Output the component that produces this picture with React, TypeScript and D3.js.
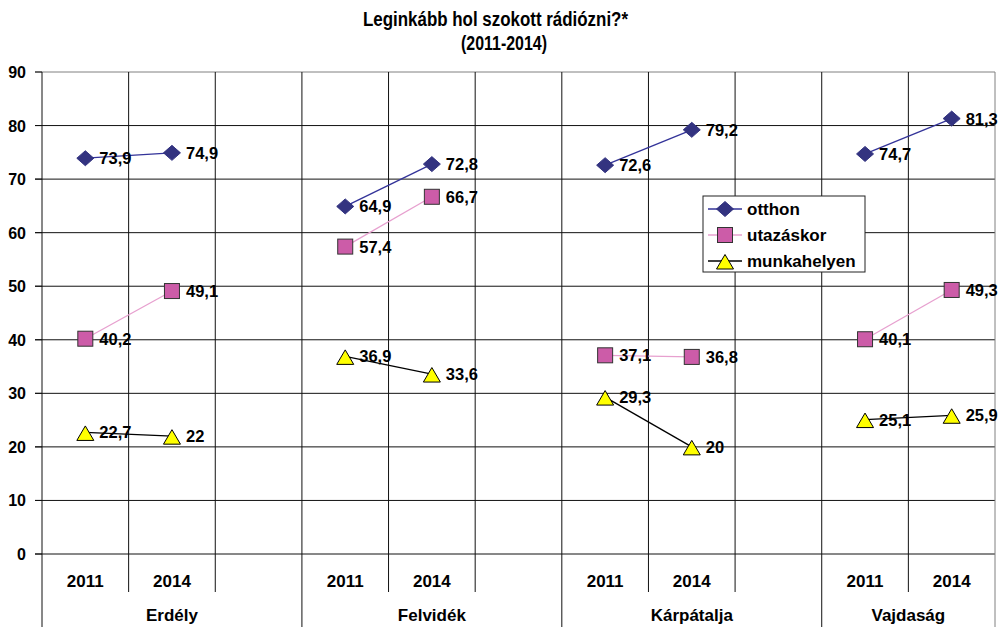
import React from "react";
import * as d3 from "d3";

const regions = ["Erdély", "Felvidék", "Kárpátalja", "Vajdaság"];
const years = ["2011", "2014"];
const otthon = [73.9, 74.9, 64.9, 72.8, 72.6, 79.2, 74.7, 81.3];
const utazaskor = [40.2, 49.1, 57.4, 66.7, 37.1, 36.8, 40.1, 49.3];
const munkahelyen = [22.7, 22, 36.9, 33.6, 29.3, 20, 25.1, 25.9];
const yTicks = [0, 10, 20, 30, 40, 50, 60, 70, 80, 90];

const W = 1000, H = 627;
const left = 42, right = 995, top = 72, bottom = 554;
const FONT = "'Liberation Sans', Arial, sans-serif";

const series = [
  { name: "otthon", values: otthon, line: "#333399", fill: "#333380", stroke: "#333380", shape: "diamond" },
  { name: "utazáskor", values: utazaskor, line: "#e7a0cf", fill: "#cc5ca8", stroke: "#333", shape: "square" },
  { name: "munkahelyen", values: munkahelyen, line: "#000", fill: "#ffff00", stroke: "#000", shape: "triangle" },
];

function fmt(v: number) {
  return String(v).replace(".", ",");
}

function Marker({ shape, x, y, fill, stroke }: any) {
  if (shape === "diamond") {
    return <path d={`M${x},${y - 7.5}L${x + 8.5},${y}L${x},${y + 7.5}L${x - 8.5},${y}Z`} fill={fill} stroke={stroke} strokeWidth={1} />;
  }
  if (shape === "square") {
    const s = 7.5;
    return <rect x={x - s} y={y - s} width={2 * s} height={2 * s} fill={fill} stroke={stroke} strokeWidth={1} />;
  }
  return <path d={`M${x},${y - 6.5}L${x + 8.5},${y + 8}L${x - 8.5},${y + 8}Z`} fill={fill} stroke={stroke} strokeWidth={1} />;
}

export default function App() {
  const slots = d3.range(11);
  const x = d3.scaleBand<number>().domain(slots).range([left, right]).padding(0);
  const y = d3.scaleLinear().domain([0, 90]).range([bottom, top]);
  const bw = x.bandwidth();
  const slotOf = (ri: number, yi: number) => ri * 3 + yi;
  const cx = (i: number) => (x(i) as number) + bw / 2;

  return (
    <svg width={W} height={H} style={{ position: "absolute", left: 0, top: 0, fontFamily: FONT }}>
      <rect width={W} height={H} fill="#fff" />
      <text x={363} y={26} fontWeight="bold" fontSize={20} textLength={265} lengthAdjust="spacingAndGlyphs">Leginkább hol szokott rádiózni?*</text>
      <text x={461} y={50} fontWeight="bold" fontSize={20} textLength={86} lengthAdjust="spacingAndGlyphs">(2011-2014)</text>

      {yTicks.map((t) => (
        <g key={t}>
          <line x1={left - 7} x2={right} y1={y(t)} y2={y(t)} stroke={t === 90 ? "#808080" : "#111"} strokeWidth={1} />
          <line x1={left - 7} x2={left} y1={y(t)} y2={y(t)} stroke="#111" strokeWidth={1} />
          <text x={26} y={y(t) + 6} textAnchor="end" fontWeight="bold" fontSize={16}>{t}</text>
        </g>
      ))}
      {d3.range(12).map((i) => {
        const xx = i < 11 ? (x(i) as number) : right;
        const isGroup = i % 3 === 0 || i === 11;
        return (
          <g key={i}>
            <line x1={xx} x2={xx} y1={top} y2={bottom} stroke={i === 11 ? "#808080" : "#111"} strokeWidth={1} />
            <line x1={xx} x2={xx} y1={bottom} y2={isGroup ? H : 592} stroke={i === 11 ? "#808080" : "#111"} strokeWidth={1} />
          </g>
        );
      })}
      {regions.map((r, ri) => {
        const gStart = x(ri * 3) as number;
        const gEnd = ri === 3 ? right : (x(ri * 3 + 3) as number);
        return (
          <g key={r}>
            {years.map((yr, yi) => (
              <text key={yr} x={cx(slotOf(ri, yi))} y={587} textAnchor="middle" fontWeight="bold" fontSize={17}>{yr}</text>
            ))}
            <text x={(gStart + gEnd) / 2} y={621} textAnchor="middle" fontWeight="bold" fontSize={17}>{r}</text>
          </g>
        );
      })}

      {series.map((s) => (
        <g key={s.name}>
          {regions.map((r, ri) => (
            <line key={r} x1={cx(slotOf(ri, 0))} x2={cx(slotOf(ri, 1))} y1={y(s.values[ri * 2])} y2={y(s.values[ri * 2 + 1])} stroke={s.line} strokeWidth={1.3} />
          ))}
        </g>
      ))}
      {series.map((s) => (
        <g key={s.name + "m"}>
          {s.values.map((v, i) => {
            const ri = Math.floor(i / 2), yi = i % 2;
            const px = cx(slotOf(ri, yi)), py = y(v);
            return (
              <g key={i}>
                <Marker shape={s.shape} x={px} y={py} fill={s.fill} stroke={s.stroke} />
                <text x={px + 14} y={py + 6} fontWeight="bold" fontSize={16.5}>{fmt(v)}</text>
              </g>
            );
          })}
        </g>
      ))}

      <rect x={703} y={196} width={162} height={76} fill="#fff" stroke="#222" strokeWidth={1} />
      {series.map((s, i) => {
        const ly = 209 + i * 26;
        return (
          <g key={s.name + "l"}>
            <line x1={708} x2={742} y1={ly} y2={ly} stroke={s.line} strokeWidth={1.3} />
            <Marker shape={s.shape} x={725} y={ly} fill={s.fill} stroke={s.stroke} />
            <text x={747} y={ly + 6} fontWeight="bold" fontSize={17}>{s.name}</text>
          </g>
        );
      })}
    </svg>
  );
}
